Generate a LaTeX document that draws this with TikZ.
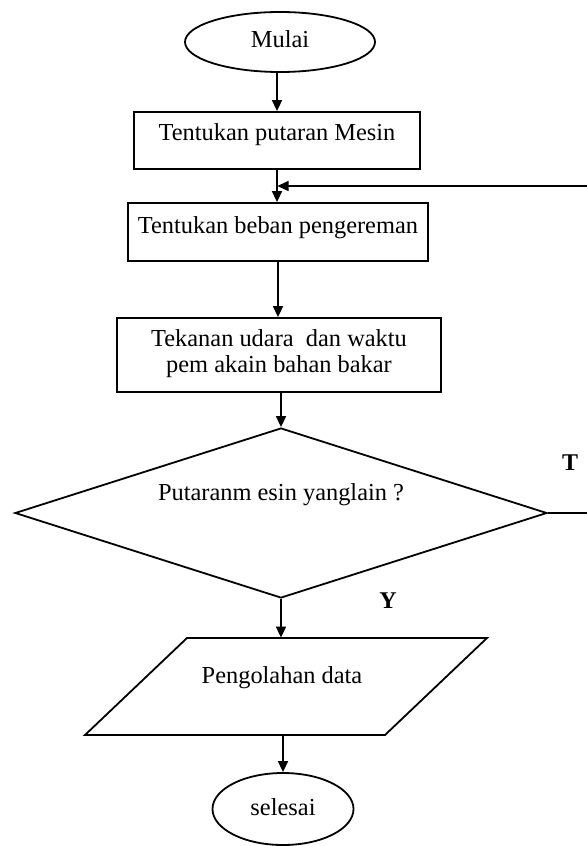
\documentclass[tikz,border=0pt]{standalone}
\usepackage{fontspec}
\setmainfont{Liberation Serif}
\usetikzlibrary{shapes.geometric,arrows.meta}
\begin{document}
\begin{tikzpicture}[x=0.5pt,y=-0.5pt,
  shapeline/.style={draw=black,line width=0.9pt},
  boxnode/.style={shapeline,rectangle,inner sep=0pt},
  termnode/.style={shapeline,ellipse,inner sep=0pt},
  txt/.style={font=\fontsize{12.2}{13}\selectfont,inner sep=0pt,align=center},
  lbl/.style={font=\fontsize{12}{13}\selectfont\bfseries,inner sep=0pt},
  arr/.style={line width=0.8pt,-{Triangle[length=5.5pt,width=5pt]}}]
\useasboundingbox (0,0) rectangle (587,846);

% start
\node[termnode,minimum width=95pt,minimum height=30pt] (mulai) at (280,42) {};
\node[txt,anchor=base] (tmulai) at (280,47) {Mulai};

% boxes
\node[boxnode,minimum width=143pt,minimum height=28.5pt] (b1) at (277,140.5) {};
\node[txt,anchor=base] (t1) at (277,140) {Tentukan putaran Mesin};

\node[boxnode,minimum width=150pt,minimum height=29pt] (b2) at (278,232) {};
\node[txt,anchor=base] (t2) at (278,233) {Tentukan beban pengereman};

\node[boxnode,minimum width=162pt,minimum height=37pt] (b3) at (279,355) {};
\node[txt] (t3) at (279,354) {Tekanan udara \ dan waktu\\pem akain bahan bakar};

% decision
\node[shapeline,diamond,inner sep=0pt,minimum width=266pt,minimum height=85pt] (dec) at (281,513) {};
\node[txt,anchor=base] (tdec) at (281,500) {Putaranm esin yanglain ?};

% data processing (parallelogram)
\node[inner sep=0pt,minimum width=200pt,minimum height=48.5pt] (para) at (283,686.5) {};
\draw[shapeline] (187,638) -- (487,638) -- (385,735) -- (85,735) -- cycle;
\node[txt,anchor=base] (tpara) at (282,683) {Pengolahan data};

% end
\node[termnode,minimum width=70.5pt,minimum height=36pt] (sel) at (283,809) {};
\node[txt,anchor=base] (tsel) at (283,815) {selesai};

% labels
\node[lbl,anchor=base] (lT) at (570,470) {T};
\node[lbl,anchor=base] (lY) at (388,608) {Y};

% connectors
\draw[arr] (mulai.south -| b1.north) -- (b1.north);
\draw[arr] (b1.south) -- (b1.south |- b2.north);
\draw[arr] (b2.south) -- (b2.south |- b3.north);
\draw[arr] (b3.south -| dec.north) -- (dec.north);
\draw[arr] (dec.south) -- (dec.south |- para.north);
\draw[arr] (para.south) -- (sel.north);

% feedback loop (T)
\path (b1.south) -- (b2.north) coordinate[pos=0.5] (fbin);
\draw[arr] (dec.east) -- (600,513) |- (fbin);
\end{tikzpicture}
\end{document}
